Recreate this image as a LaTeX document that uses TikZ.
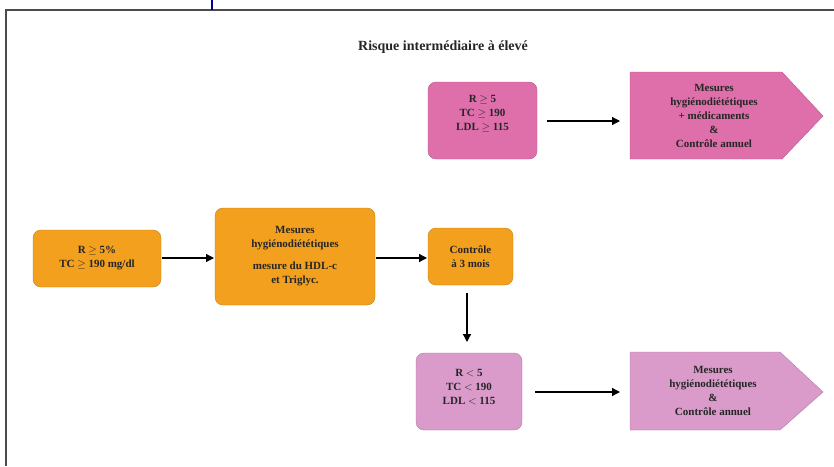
\documentclass[tikz,border=0pt]{standalone}
\usepackage{fontspec}
\setmainfont{Liberation Serif}
\usetikzlibrary{arrows.meta}
\definecolor{orangeb}{HTML}{F2A01E}
\definecolor{pinkA}{HTML}{DE6FAA}
\definecolor{pinkB}{HTML}{DA9BCB}
\tikzset{
  box/.style={rounded corners=8pt, draw=#1!80!black, line width=0.4pt, fill=#1},
  arr/.style={-{Triangle[length=8pt,width=8pt]}, line width=1.3pt, black},
  txt/.style={font=\fontsize{11}{14}\selectfont\bfseries, align=center, text=black!85}
}
\begin{document}
\begin{tikzpicture}[x=1pt,y=-1pt]
\useasboundingbox (0,0) rectangle (834,466);
\draw[line width=1.8pt, draw=black!70] (6,466) -- (6,10) -- (834,10);
\draw[line width=1.5pt, draw=blue!60!black] (212,0) -- (212,10);
\node[font=\fontsize{14}{16}\selectfont\bfseries, text=black!85] (title) at (443,47) {Risque intermédiaire à élevé};
% top pink
\draw[box=pinkA] (428,82) rectangle (537,159);
\node[txt] (p1) at (482.5,114) {R $\geq$ 5\\TC $\geq$ 190\\LDL $\geq$ 115};
\draw[fill=pinkA, draw=pinkA!80!black, line width=0.4pt] (630,72) -- (782,72) -- (823,116) -- (782,159) -- (630,159) -- cycle;
\node[txt] (q1) at (714,116) {Mesures\\hygiénodiététiques\\+ médicaments\\\&\\Contrôle annuel};
% orange row
\draw[box=orangeb] (33,230) rectangle (161,287);
\node[txt] (o1) at (97,258.5) {R $\geq$ 5\%\\TC $\geq$ 190 mg/dl};
\draw[box=orangeb] (215,208) rectangle (375,305);
\node[txt] (o2) at (295,256.5) {Mesures\\hygiénodiététiques\\[8pt]mesure du HDL-c\\et Triglyc.};
\draw[box=orangeb] (428,228) rectangle (513,285);
\node[txt] (o3) at (470.5,256.5) {Contrôle\\à 3 mois};
\coordinate (p1e) at (547,121);
\coordinate (q1w) at (620,121);
\coordinate (o1e) at (162,258);
\coordinate (o2w) at (214,258);
\coordinate (o2e) at (376,258);
\coordinate (o3w) at (427,258);
\coordinate (o3s) at (467,293);
\coordinate (p2n) at (467,342);
% bottom pink
\draw[box=pinkB] (416,353) rectangle (522,430);
\node[txt] (p2) at (469,387) {R $<$ 5\\TC $<$ 190\\LDL $<$ 115};
\draw[fill=pinkB, draw=pinkB!80!black, line width=0.4pt] (630,352) -- (780,352) -- (823,392) -- (780,430) -- (630,430) -- cycle;
\node[txt] (q2) at (713,391) {Mesures\\hygiénodiététiques\\\&\\Contrôle annuel};
\coordinate (p2e) at (535,392);
\coordinate (q2w) at (620,392);
% arrows
\draw[arr] (p1e) -- (q1w);
\draw[arr] (o1e) -- (o2w);
\draw[arr] (o2e) -- (o3w);
\draw[arr] (o3s) -- (p2n);
\draw[arr] (p2e) -- (q2w);
\end{tikzpicture}
\end{document}
